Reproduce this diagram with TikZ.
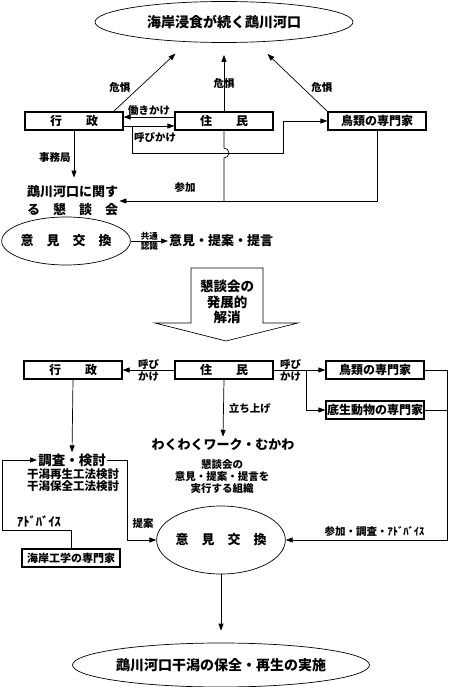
\documentclass[tikz,border=0pt]{standalone}
\usepackage{fontspec}
\setmainfont{Noto Sans CJK JP}
\usetikzlibrary{positioning, calc, arrows.meta, shapes.geometric}
\newcommand{\jpsize}[2]{\fontsize{#1pt}{#2pt}\selectfont}

\begin{document}
\begin{tikzpicture}[x=1pt, y=-1pt,
  dbox/.style={
    draw, line width=1.2pt, minimum width=98pt, minimum height=18pt, inner sep=0pt,
    font=\bfseries\jpsize{12}{14},
    append after command={
      [draw, line width=0.4pt]
      ($(\tikzlastnode.north west)+(2pt,-2pt)$) rectangle ($(\tikzlastnode.south east)+(-2pt,2pt)$)
    }
  },
  cloud/.style={ellipse, draw, line width=0.7pt, inner sep=0pt, font=\bfseries\jpsize{14}{16}},
  conn/.style={-{Triangle[length=7pt, width=5pt]}, line width=0.7pt},
  wire/.style={line width=0.7pt},
  lbl/.style={font=\bfseries\jpsize{10.5}{12}, inner sep=1pt, align=center},
  tiny/.style={font=\bfseries\jpsize{8.5}{9}, inner sep=0.5pt},
  note/.style={font=\bfseries\jpsize{13}{18}, inner sep=1pt, align=left}
]
  \useasboundingbox (0,0) rectangle (450,687);

  % before: the council
  \node[cloud, minimum width=258pt, minimum height=41pt] (coast) at (224,22) {海岸浸食が続く鵡川河口};
  \node[dbox] (gyosei) at (74,121) {行　　政};
  \node[dbox] (jumin)  at (224,121) {住　　民};
  \node[dbox] (chorui) at (377,121) {鳥類の専門家};

  \draw[conn, shorten >=17pt] ([xshift=-10pt]gyosei.north east) -- (coast.209)
    node[lbl, pos=0.35, left=8pt] {危惧};
  \draw[conn, shorten >=12pt] (jumin.north) -- (coast.south)
    node[lbl, pos=0.4] {危惧};
  \draw[conn, shorten >=17pt] (chorui.north west) -- (coast.327)
    node[lbl, pos=0.35, right=8pt] {危惧};

  \draw[conn] ([yshift=4pt]jumin.west) -- ([yshift=4pt]gyosei.east)
    node[lbl, midway, above] {働きかけ};
  \draw[conn] ([yshift=-5pt]gyosei.east) -- ([yshift=-5pt]jumin.west);
  \draw[conn] ([xshift=9pt, yshift=-5pt]gyosei.east) |- (283,153) |- (chorui.west);
  \node[lbl, anchor=west] (yobi) at (133,138) {呼びかけ};

  \node[note, anchor=west] (kondan) at (26,201) {鵡川河口に関す\\る　懇　談　会};
  \draw[conn, shorten >=7pt] (gyosei.south) -- (gyosei.south |- kondan.north)
    node[lbl, midway, left=2pt] {事務局};
  \draw[conn] (chorui.south) |- (kondan.east);
  \draw[wire] (jumin.south) -- (224,148) arc[start angle=90, end angle=-90, radius=5pt]
    -- (jumin.south |- kondan.east);
  \node[lbl] (sanka) at (185,188) {参加};

  \node[cloud, minimum width=104pt, minimum height=48pt, font=\bfseries\jpsize{13}{15}] (iken1) at (66,241) {意　見　交　換};
  \node[note, anchor=west] (teigen) at (168,241) {意見・提案・提言};
  \draw[conn] (iken1.east) -- (teigen.west)
    node[tiny, midway, above] {共通}
    node[tiny, midway, below] {認識};

  % the big arrow
  \draw[wire] (191,268) -- (263,268) -- (263,323) -- (298,323) -- (226,341)
    -- (155,323) -- (191,323) -- cycle;
  \node[font=\bfseries\jpsize{13.5}{15.5}, align=center] (kaisho) at (227,302) {懇談会の\\発展的\\解消};

  % after: the working group
  \node[dbox] (gyosei2) at (73,370)  {行　　政};
  \node[dbox] (jumin2)  at (224,370) {住　　民};
  \node[dbox] (chorui2) at (375,370) {鳥類の専門家};
  \node[dbox] (teisei)  at (375,410) {底生動物の専門家};

  \draw[conn] (jumin2.west) -- (gyosei2.east) node[lbl, midway] {呼び\\かけ};
  \draw[conn] (jumin2.east) -- (chorui2.west) node[lbl, pos=0.33] {呼び\\かけ};
  \coordinate (split) at (306,370);
  \draw[conn] (split) |- (teisei.west);

  \node[font=\bfseries\jpsize{13}{15}, inner sep=2pt] (waku) at (223,445) {わくわくワーク・むかわ};
  \draw[conn] (jumin2.south) -- (waku.north) node[lbl, midway, right=4pt] {立ち上げ};
  \node[font=\bfseries\jpsize{10.5}{12}, align=center] (soshiki) at (222,477) {懇談会の\\意見・提案・提言を\\実行する組織};

  \node[font=\bfseries\jpsize{13.5}{15}, inner sep=1pt] (chosa) at (72,460) {調査・検討};
  \draw[conn] (gyosei2.south) -- (chosa.north);
  \node[font=\bfseries\jpsize{11.5}{12}, align=center] (koho) at (73,480) {干潟再生工法検討\\干潟保全工法検討};

  \node[dbox, font=\bfseries\jpsize{11}{13}] (kaigan) at (71,558) {海岸工学の専門家};
  \coordinate (advc) at (2,530);
  \draw[conn] (kaigan.north) |- (advc) |- (chosa.west);
  \node[lbl, font=\bfseries\jpsize{12.5}{13}] (adv) at (39,522) {ｱﾄﾞﾊﾞｲｽ};

  \node[cloud, minimum width=120pt, minimum height=68pt, font=\bfseries\jpsize{13}{15}] (iken2) at (221,540) {意　見　交　換};
  \coordinate (teian) at (127,540);
  \draw[conn] (chosa.east) -| (teian) -- (iken2.west);
  \node[lbl] (teianlbl) at (143,524) {提案};

  \coordinate (rline) at (447,540);
  \draw[conn] (chorui2.east) -| (rline) -- (iken2.east)
    node[lbl, pos=0.45, above=2pt] {参加・調査・ｱﾄﾞﾊﾞｲｽ};
  \draw[wire] (teisei.east) -- (teisei.east -| rline);

  \node[cloud, minimum width=258pt, minimum height=44pt] (goal) at (221,665) {鵡川河口干潟の保全・再生の実施};
  \draw[conn, shorten >=12pt] (iken2.south) -- (goal.north);
\end{tikzpicture}
\end{document}
